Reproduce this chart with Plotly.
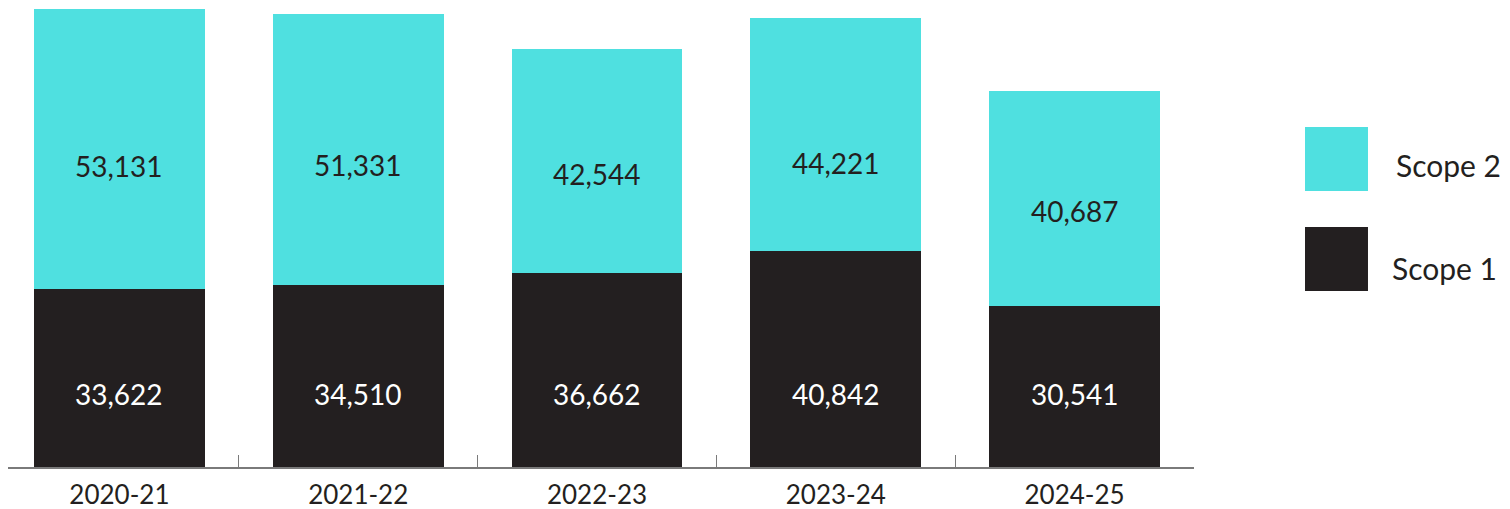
import plotly.graph_objects as go

annees = ["2020-21", "2021-22", "2022-23", "2023-24", "2024-25"]
scope1 = [33622, 34510, 36662, 40842, 30541]
scope2 = [53131, 51331, 42544, 44221, 40687]
noms = ["Scope 1", "Scope 2"]

noir = "#231f20"
cyan = "#4fe0e0"
police = "Lato"

fig = go.Figure()
fig.add_trace(go.Bar(x=annees, y=scope1, name=noms[0], marker_color=noir, marker_line_width=0))
fig.add_trace(go.Bar(x=annees, y=scope2, name=noms[1], marker_color=cyan, marker_line_width=0))

# étiquettes des valeurs (placées un peu sous le milieu, comme l'original)
for a, s1, s2 in zip(annees, scope1, scope2):
    fig.add_annotation(x=a, y=13800, text=f"{s1:,}", showarrow=False,
                       font=dict(family=police, size=28, color="white"))
    fig.add_annotation(x=a, y=min(57500, s1 + s2 * 0.44), text=f"{s2:,}", showarrow=False,
                       font=dict(family=police, size=28, color=noir))

# légende dessinée à la main (grands carrés)
legende = [(noms[1], cyan, 0.7407, 0.6013, 1.1686, 0.658),
           (noms[0], noir, 0.5229, 0.3834, 1.1652, 0.4336)]
for nom, couleur, haut, bas, xt, yt in legende:
    fig.add_shape(type="rect", xref="paper", yref="paper", x0=1.0936, x1=1.1467,
                  y0=bas, y1=haut, fillcolor=couleur, line_width=0)
    fig.add_annotation(xref="paper", yref="paper", x=xt, y=yt,
                       text=nom, showarrow=False, xanchor="left", yanchor="middle",
                       font=dict(family=police, size=30, color=noir))

# la page ajoute 8 px de marge : figure un peu plus petite pour tomber juste
fig.update_layout(
    barmode="stack",
    bargap=0.284,
    width=1502, height=501,
    margin=dict(l=0, r=316, t=0, b=42),
    plot_bgcolor="white", paper_bgcolor="white",
    showlegend=False,
    font=dict(family=police, color=noir),
)
fig.update_xaxes(showline=True, linecolor="#7a7a7a", linewidth=1.5,
                 range=[-0.4665, 4.5], automargin=False,
                 ticks="inside", tickson="boundaries", ticklen=12, tickcolor="#7a7a7a",
                 tickfont=dict(size=26, color=noir), ticklabelstandoff=4)
fig.update_yaxes(visible=False, range=[0, 86900])

fig.write_html("out.html")
